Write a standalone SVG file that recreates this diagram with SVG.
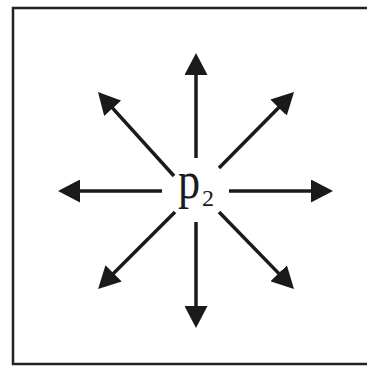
<svg xmlns="http://www.w3.org/2000/svg" width="367" height="374" viewBox="0 0 367 374">
  <style>
    .arr { stroke: #1a1a1a; stroke-width: 3.5; fill: none; marker-end: url(#head); }
    .lbl { font-family: "Liberation Serif", "Times New Roman", serif; fill: #1a1a1a; }
  </style>
  <defs>
    <marker id="head" viewBox="0 0 22 23" refX="13" refY="11.5" markerWidth="22" markerHeight="23" markerUnits="userSpaceOnUse" orient="auto">
      <path d="M0,0 L22,11.5 L0,23 Z" fill="#1a1a1a"/>
    </marker>
  </defs>
  <rect x="0" y="0" width="367" height="374" fill="#ffffff"/>
  <g id="frame">
    <rect x="13" y="8" width="370" height="356" fill="none" stroke="#222222" stroke-width="2.5"/>
  </g>
  <g id="connectors">
    <line class="arr" x1="196" y1="158" x2="196" y2="62"/>
    <line class="arr" x1="196" y1="222" x2="196" y2="319"/>
    <line class="arr" x1="162" y1="191" x2="67" y2="191"/>
    <line class="arr" x1="229" y1="191" x2="324" y2="191"/>
    <line class="arr" x1="174" y1="176" x2="104" y2="98.6"/>
    <line class="arr" x1="219" y1="168" x2="287.7" y2="98.4"/>
    <line class="arr" x1="175" y1="212" x2="104.4" y2="282.6"/>
    <line class="arr" x1="219" y1="212" x2="287.7" y2="282.6"/>
  </g>
  <g id="p2">
    <text class="lbl" x="0" y="0" font-size="52" transform="translate(178,198) scale(0.85,1)">p</text>
    <text class="lbl" x="202" y="206" font-size="24">2</text>
  </g>
</svg>
